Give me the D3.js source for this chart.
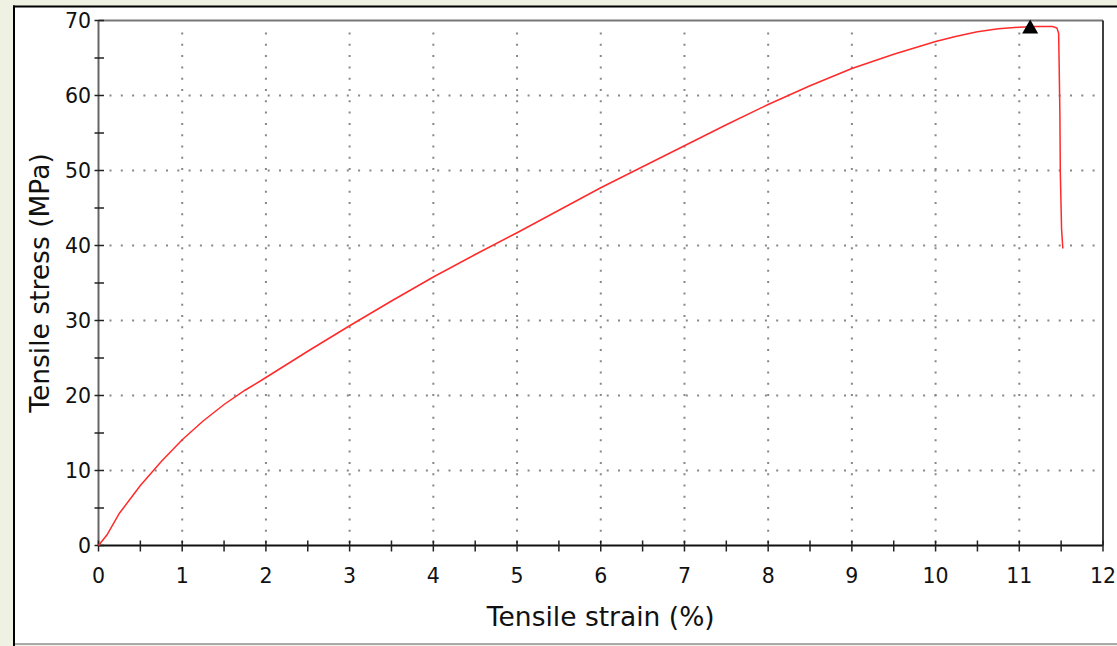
<!DOCTYPE html>
<html>
<head>
<meta charset="utf-8">
<script src="https://cdn.jsdelivr.net/npm/d3@7"></script>
<style>
  html, body { margin: 0; padding: 0; background: #eff1e2; }
  svg { display: block; }
  text { font-family: "DejaVu Sans", Verdana, sans-serif; fill: #111; }
</style>
</head>
<body>
<div id="chart"></div>
<script>
  'use strict';

  // Data
  var strainPct = [0, 0.1, 0.25, 0.5, 0.75, 1.0, 1.25, 1.5, 1.75, 2.0,
    2.5, 3.0, 3.5, 4.0, 4.5, 5.0, 5.5, 6.0, 6.5, 7.0, 7.5, 8.0, 8.5,
    9.0, 9.5, 10.0, 10.25, 10.5, 10.75, 11.0, 11.2, 11.4, 11.45, 11.47,
    11.475, 11.485, 11.49, 11.505, 11.52];
  var stressMPa = [0, 1.4, 4.3, 8.0, 11.2, 14.1, 16.6, 18.8, 20.7, 22.4,
    25.9, 29.3, 32.6, 35.8, 38.8, 41.7, 44.7, 47.7, 50.5, 53.3, 56.1, 58.8,
    61.3, 63.6, 65.5, 67.2, 67.9, 68.5, 68.9, 69.1, 69.2, 69.2, 69.0, 68.3,
    65, 57.5, 49.8, 42.2, 39.6];

  // Maximum stress marker
  var peakStrain = [11.13];
  var peakStress = [69.2];

  // Tick labels
  var xTicks = [0, 1, 2, 3, 4, 5, 6, 7, 8, 9, 10, 11, 12];
  var yTicks = [0, 10, 20, 30, 40, 50, 60, 70];

  var WIDTH = 1117, HEIGHT = 646;
  var PLOT = { left: 98.5, right: 1103, top: 20.5, bottom: 545.5 };

  var svg = d3.select('#chart').append('svg')
    .attr('width', WIDTH)
    .attr('height', HEIGHT);

  // Panel frame
  svg.append('rect')
    .attr('x', 14).attr('y', 6.5)
    .attr('width', WIDTH).attr('height', 637)
    .attr('fill', '#fff');
  svg.append('line')
    .attr('x1', 14).attr('x2', 14).attr('y1', 5.5).attr('y2', 646)
    .attr('stroke', '#000').attr('stroke-width', 2);
  svg.append('line')
    .attr('x1', 13).attr('x2', WIDTH).attr('y1', 6.5).attr('y2', 6.5)
    .attr('stroke', '#000').attr('stroke-width', 2);
  svg.append('line')
    .attr('x1', 15).attr('x2', WIDTH).attr('y1', 644).attr('y2', 644)
    .attr('stroke', '#aaa').attr('stroke-width', 2);

  var x = d3.scaleLinear().domain([0, 12]).range([PLOT.left, PLOT.right]);
  var y = d3.scaleLinear().domain([0, 70]).range([PLOT.bottom, PLOT.top]);

  // Dotted grid
  var grid = svg.append('g')
    .attr('stroke', '#888')
    .attr('stroke-width', 2)
    .attr('stroke-dasharray', '2 9.3');
  grid.selectAll('.vgrid')
    .data(xTicks.filter(function(d) { return d > 0 && d < 12; }))
    .enter().append('line')
    .attr('x1', function(d) { return x(d); })
    .attr('x2', function(d) { return x(d); })
    .attr('y1', y(70) + 12).attr('y2', y(0));
  grid.selectAll('.hgrid')
    .data(yTicks.filter(function(d) { return d > 0 && d < 70; }))
    .enter().append('line')
    .attr('y1', function(d) { return y(d); })
    .attr('y2', function(d) { return y(d); })
    .attr('x1', x(0) + 11).attr('x2', x(12));

  // Plot border: grey top and left, black right and bottom
  svg.append('line')
    .attr('x1', x(0)).attr('x2', x(12)).attr('y1', y(70)).attr('y2', y(70))
    .attr('stroke', '#777').attr('stroke-width', 2);
  svg.append('line')
    .attr('x1', x(12)).attr('x2', x(12)).attr('y1', y(70)).attr('y2', y(0))
    .attr('stroke', '#000').attr('stroke-width', 1.5);
  svg.append('line')
    .attr('x1', x(0)).attr('x2', x(0)).attr('y1', y(70)).attr('y2', y(0))
    .attr('stroke', '#666').attr('stroke-width', 2);

  // X axis (major and half-step ticks crossing the axis line)
  var xAxis = svg.append('g');
  xAxis.append('line')
    .attr('x1', x(0)).attr('x2', x(12)).attr('y1', y(0)).attr('y2', y(0))
    .attr('stroke', '#111').attr('stroke-width', 1.8);
  xAxis.selectAll('.xtick')
    .data(d3.range(0, 12.01, 0.5))
    .enter().append('line')
    .attr('x1', function(d) { return x(d); })
    .attr('x2', function(d) { return x(d); })
    .attr('y1', y(0) - 5).attr('y2', y(0) + 6)
    .attr('stroke', '#222').attr('stroke-width', 1.5);
  xAxis.selectAll('.xlabel')
    .data(xTicks)
    .enter().append('text')
    .attr('x', function(d) { return x(d); })
    .attr('y', 583)
    .attr('text-anchor', 'middle')
    .style('font-size', '20.5px')
    .text(function(d) { return d; });

  // Y axis
  var yAxis = svg.append('g');
  yAxis.selectAll('.ytick')
    .data(d3.range(0, 70.01, 5))
    .enter().append('line')
    .attr('y1', function(d) { return y(d); })
    .attr('y2', function(d) { return y(d); })
    .attr('x1', x(0) - 4).attr('x2', x(0) + 5.5)
    .attr('stroke', '#222').attr('stroke-width', 1.5);
  yAxis.selectAll('.ylabel')
    .data(yTicks)
    .enter().append('text')
    .attr('x', 91)
    .attr('y', function(d) { return y(d) + 7.5; })
    .attr('text-anchor', 'end')
    .style('font-size', '20.5px')
    .text(function(d) { return d; });

  // Axis titles
  svg.append('text')
    .attr('x', (PLOT.left + PLOT.right) / 2)
    .attr('y', 626)
    .attr('text-anchor', 'middle')
    .style('font-size', '26.5px')
    .text('Tensile strain (%)');
  svg.append('text')
    .attr('transform', 'translate(49,' + ((PLOT.top + PLOT.bottom) / 2) + ') rotate(-90)')
    .attr('text-anchor', 'middle')
    .style('font-size', '26.5px')
    .text('Tensile stress (MPa)');

  // Stress-strain curve
  var curve = d3.line()
    .x(function(d) { return x(d[0]); })
    .y(function(d) { return y(d[1]); });
  svg.append('path')
    .datum(d3.zip(strainPct, stressMPa))
    .attr('d', curve)
    .attr('fill', 'none')
    .attr('stroke', '#ff2a2a')
    .attr('stroke-width', 1.5);

  // Peak marker
  svg.selectAll('.peak')
    .data(d3.zip(peakStrain, peakStress))
    .enter().append('path')
    .attr('transform', function(d) {
      return 'translate(' + x(d[0]) + ',' + y(d[1]) + ')';
    })
    .attr('d', 'M0,-7L8,7L-8,7Z')
    .attr('fill', '#000');
</script>
</body>
</html>
